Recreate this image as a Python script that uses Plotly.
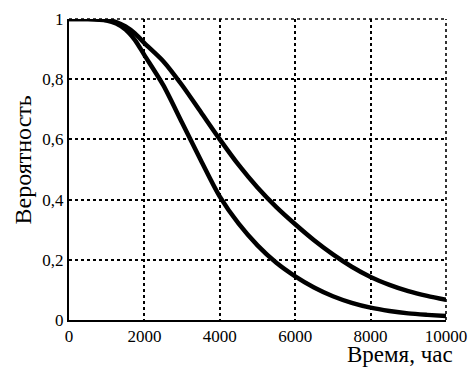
import plotly.graph_objects as go

# Time, hours
t = [0, 500, 1000, 1250, 1500, 1750, 2000, 2500, 3000, 3500, 4000, 4500, 5000, 5500,
     6000, 6500, 7000, 7500, 8000, 8500, 9000, 9500, 10000]
# Upper (slower) curve
p_upper = [1.0, 1.0, 0.997, 0.99, 0.975, 0.952, 0.92, 0.86, 0.78, 0.69, 0.60, 0.515,
           0.44, 0.375, 0.318, 0.265, 0.218, 0.177, 0.143, 0.117, 0.096, 0.08, 0.067]
# Lower (faster) curve
p_lower = [1.0, 1.0, 0.995, 0.985, 0.965, 0.93, 0.88, 0.78, 0.655, 0.53, 0.41, 0.32,
           0.248, 0.19, 0.145, 0.108, 0.079, 0.057, 0.041, 0.03, 0.022, 0.017, 0.013]

x_ticks = [0, 2000, 4000, 6000, 8000, 10000]
x_ticktext = ["0", "2000", "4000", "6000", "8000", "10000"]
y_ticks = [0, 0.2, 0.4, 0.6, 0.8, 1]
y_ticktext = ["0", "0,2", "0,4", "0,6", "0,8", "1"]

font_family = "Liberation Serif, Times New Roman, serif"

fig = go.Figure()
for series in (p_upper, p_lower):
    fig.add_trace(go.Scatter(x=t, y=series, mode="lines",
                             line=dict(color="black", width=4.5, shape="spline", smoothing=0.8),
                             showlegend=False))

grid = dict(showgrid=True, gridcolor="black", gridwidth=1.6, griddash="3px,3px")

fig.update_xaxes(range=[0, 10000], tickvals=x_ticks, ticktext=x_ticktext,
                 showline=True, linecolor="black", linewidth=2, ticks="",
                 zeroline=False, automargin=False,
                 tickfont=dict(family=font_family, size=17, color="black"),
                 **grid)
fig.update_yaxes(range=[0, 1], tickvals=y_ticks, ticktext=y_ticktext,
                 showline=True, linecolor="black", linewidth=2, ticks="",
                 zeroline=False, automargin=False,
                 tickfont=dict(family=font_family, size=17, color="black"),
                 **grid)

# dotted border on top and right (gridline style)
fig.add_shape(type="line", xref="paper", yref="paper", x0=0, x1=1, y0=1, y1=1,
              line=dict(color="black", width=1.6, dash="3px,3px"))
fig.add_shape(type="line", xref="paper", yref="paper", x0=1, x1=1, y0=0, y1=1,
              line=dict(color="black", width=1.6, dash="3px,3px"))

fig.add_annotation(text="Вероятность", xref="paper", yref="paper", x=-0.122, y=0.53,
                   xanchor="center", yanchor="middle", textangle=-90, showarrow=False,
                   font=dict(family=font_family, size=24, color="black"))
fig.add_annotation(text="Время, час", xref="paper", yref="paper", x=0.878, y=-0.115,
                   xanchor="center", yanchor="middle", showarrow=False,
                   font=dict(family=font_family, size=23, color="black"))

fig.update_layout(width=470, height=367, margin=dict(l=69, r=24, t=19, b=47),
                  plot_bgcolor="white", paper_bgcolor="white")

fig.write_html("out.html", config={"displayModeBar": False},
               post_script="document.body.style.margin='0';document.body.style.overflow='hidden';")
